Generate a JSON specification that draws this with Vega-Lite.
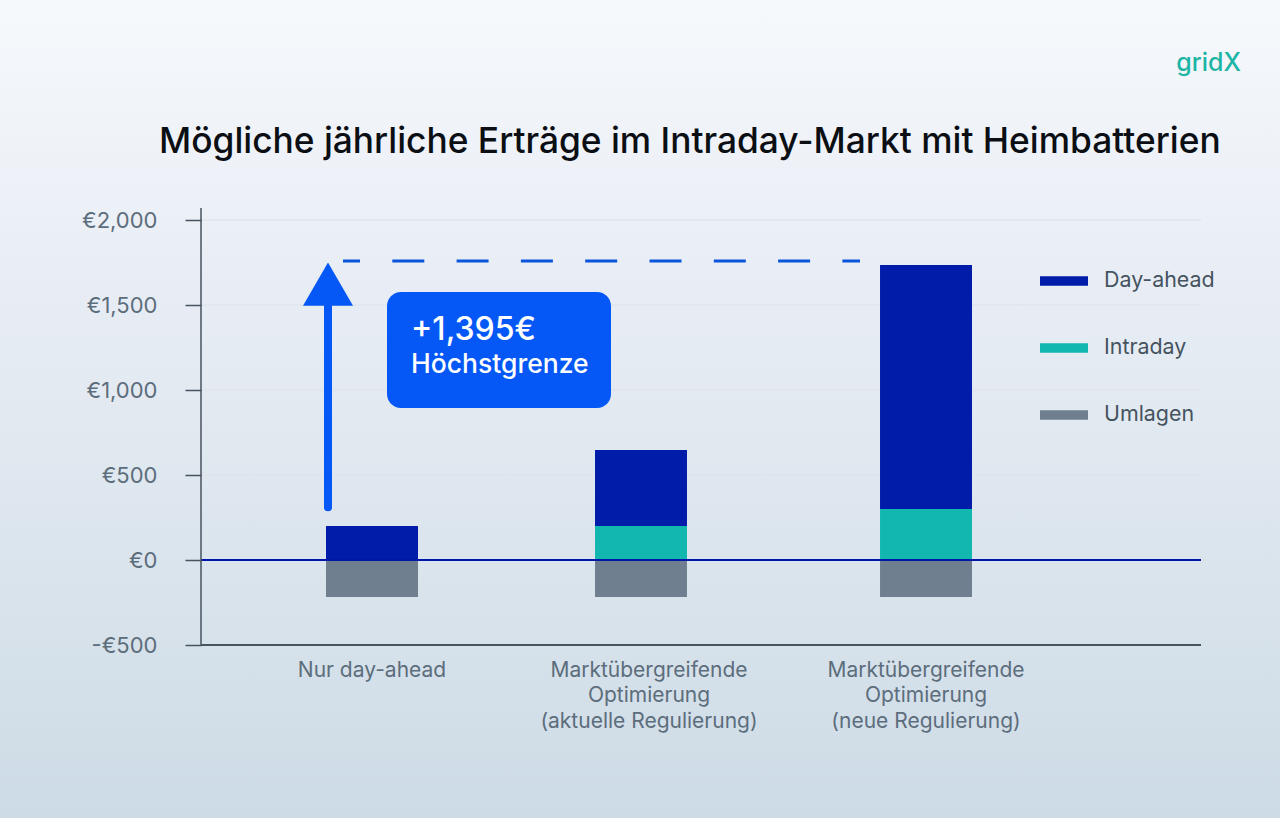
{
  "$schema": "https://vega.github.io/schema/vega-lite/v6.json",
  "width": 1000,
  "height": 425,
  "autosize": {"type": "none"},
  "padding": {"left": 201, "top": 220, "right": 79, "bottom": 173},
  "background": "#e4eaf2",
  "title": {
    "text": "Mögliche jährliche Erträge im Intraday-Markt mit Heimbatterien",
    "anchor": "start",
    "dx": 159,
    "offset": -160,
    "font": "Inter",
    "fontSize": 35.3,
    "fontWeight": 500,
    "color": "#0b0f14"
  },
  "config": {"view": {"stroke": null}, "font": "Inter"},
  "resolve": {"scale": {"x": "independent"}},
  "layer": [
    {
      "data": {"values": [{"x0": -201, "x1": 1079, "y0": 3294, "y1": -1518}]},
      "mark": {
        "type": "rect",
        "fill": {
          "gradient": "linear",
          "x1": 0, "y1": 0, "x2": 0, "y2": 1,
          "stops": [
            {"offset": 0, "color": "#f6f9fc"},
            {"offset": 0.35, "color": "#e8edf5"},
            {"offset": 0.7, "color": "#dae4ec"},
            {"offset": 1, "color": "#cddbe6"}
          ]
        }
      },
      "encoding": {
        "x": {"field": "x0", "type": "quantitative", "scale": {"domain": [0, 1000]}, "axis": null},
        "x2": {"field": "x1"},
        "y": {
          "field": "y0",
          "type": "quantitative",
          "scale": {"domain": [-500, 2000], "nice": false},
          "axis": {
            "title": null,
            "values": [-500, 0, 500, 1000, 1500, 2000],
            "domain": false,
            "grid": false,
            "tickSize": 16,
            "tickWidth": 1.5,
            "tickColor": "#47535f",
            "labelPadding": 28,
            "labelFontSize": 22,
            "labelColor": "#5c6d7c",
            "labelExpr": "(datum.value < 0 ? '-' : '') + '€' + format(abs(datum.value), ',')",
            "zindex": 1
          }
        },
        "y2": {"field": "y1"}
      }
    },
    {
      "data": {"values": [{"v": 2000}, {"v": 1500}, {"v": 1000}, {"v": 500}]},
      "mark": {"type": "rule", "color": "#e0e5ec", "strokeWidth": 1.5},
      "encoding": {"y": {"field": "v", "type": "quantitative"}}
    },
    {
      "data": {
        "values": [
          {"scenario": "Nur day-ahead", "type": "Day-ahead", "value": 200},
          {"scenario": "Nur day-ahead", "type": "Umlagen", "value": -218},
          {"scenario": "Marktübergreifende Optimierung (aktuelle Regulierung)", "type": "Day-ahead", "value": 447},
          {"scenario": "Marktübergreifende Optimierung (aktuelle Regulierung)", "type": "Intraday", "value": 200},
          {"scenario": "Marktübergreifende Optimierung (aktuelle Regulierung)", "type": "Umlagen", "value": -218},
          {"scenario": "Marktübergreifende Optimierung (neue Regulierung)", "type": "Day-ahead", "value": 1435},
          {"scenario": "Marktübergreifende Optimierung (neue Regulierung)", "type": "Intraday", "value": 300},
          {"scenario": "Marktübergreifende Optimierung (neue Regulierung)", "type": "Umlagen", "value": -218}
        ]
      },
      "mark": {"type": "bar", "xOffset": {"expr": "indexof(datum.scenario, 'aktuelle') >= 0 ? -8 : 0"}},
      "encoding": {
        "x": {
          "field": "scenario",
          "type": "nominal",
          "sort": null,
          "scale": {"type": "band", "range": [125, 771], "paddingInner": 0.668, "paddingOuter": 0},
          "axis": {
            "title": null,
            "domain": false,
            "ticks": false,
            "labelAngle": 0,
            "labelPadding": 14,
            "labelFontSize": 21,
            "labelColor": "#5c6d7c",
            "labelLimit": 400,
            "labelLineHeight": 25.5,
            "labelExpr": "split(replace(replace(datum.label, ' O', '|O'), ' (', '|('), '|')",
            "zindex": 1
          }
        },
        "y": {"field": "value", "type": "quantitative", "stack": "zero"},
        "color": {
          "field": "type",
          "type": "nominal",
          "scale": {"domain": ["Day-ahead", "Intraday", "Umlagen"], "range": ["#001ca8", "#12b8b0", "#6f7f8f"]},
          "legend": {
            "title": null,
            "orient": "none",
            "legendX": 839,
            "legendY": 37,
            "symbolType": "M-1,-0.2H1V0.2H-1Z",
            "symbolSize": 2304,
            "symbolStrokeWidth": 0,
            "symbolOpacity": 1,
            "labelOffset": 16,
            "labelFontSize": 21.4,
            "labelColor": "#45535f",
            "rowPadding": 32
          }
        }
      }
    },
    {
      "data": {"values": [{"v": 0}]},
      "mark": {"type": "rule", "color": "#0016a8", "strokeWidth": 2},
      "encoding": {"y": {"field": "v", "type": "quantitative"}}
    },
    {
      "data": {"values": [{"v": -500}]},
      "mark": {"type": "rule", "color": "#47535f", "strokeWidth": 2},
      "encoding": {"y": {"field": "v", "type": "quantitative"}}
    },
    {
      "data": {"values": [{"x": 0, "y0": -500, "y1": 2070}]},
      "mark": {"type": "rule", "color": "#47535f", "strokeWidth": 1.5},
      "encoding": {
        "x": {"field": "x", "type": "quantitative", "scale": {"domain": [0, 1000]}, "axis": null},
        "y": {"field": "y0", "type": "quantitative"},
        "y2": {"field": "y1"}
      }
    },
    {
      "data": {"values": [{"x": 127, "y0": 310, "y1": 1500}]},
      "mark": {"type": "rule", "color": "#0558f5", "strokeWidth": 8, "strokeCap": "round"},
      "encoding": {
        "x": {"field": "x", "type": "quantitative", "scale": {"domain": [0, 1000]}, "axis": null},
        "y": {"field": "y0", "type": "quantitative"},
        "y2": {"field": "y1"}
      }
    },
    {
      "data": {"values": [{"x": 127, "y": 1623}]},
      "mark": {"type": "point", "shape": "triangle-up", "size": 2500, "filled": true, "color": "#0558f5", "opacity": 1},
      "encoding": {
        "x": {"field": "x", "type": "quantitative", "scale": {"domain": [0, 1000]}, "axis": null},
        "y": {"field": "y", "type": "quantitative"}
      }
    },
    {
      "data": {"values": [{"x0": 142, "x1": 659, "y": 1759}]},
      "mark": {"type": "rule", "color": "#0b55dd", "strokeWidth": 3, "strokeDash": [32, 32.3], "strokeDashOffset": 15},
      "encoding": {
        "x": {"field": "x0", "type": "quantitative", "scale": {"domain": [0, 1000]}, "axis": null},
        "x2": {"field": "x1"},
        "y": {"field": "y", "type": "quantitative"}
      }
    },
    {
      "data": {"values": [{"x0": 186, "x1": 410, "y0": 1576, "y1": 894}]},
      "mark": {"type": "rect", "color": "#0558f5", "cornerRadius": 14},
      "encoding": {
        "x": {"field": "x0", "type": "quantitative", "scale": {"domain": [0, 1000]}, "axis": null},
        "x2": {"field": "x1"},
        "y": {"field": "y0", "type": "quantitative"},
        "y2": {"field": "y1"}
      }
    },
    {
      "data": {"values": [{"x": 210, "y": 1353, "label": "+1,395€"}]},
      "mark": {"type": "text", "align": "left", "baseline": "middle", "color": "#ffffff", "fontSize": 32, "fontWeight": 500},
      "encoding": {
        "x": {"field": "x", "type": "quantitative", "scale": {"domain": [0, 1000]}, "axis": null},
        "y": {"field": "y", "type": "quantitative"},
        "text": {"field": "label"}
      }
    },
    {
      "data": {"values": [{"x": 210, "y": 1147, "label": "Höchstgrenze"}]},
      "mark": {"type": "text", "align": "left", "baseline": "middle", "color": "#ffffff", "fontSize": 26.5, "fontWeight": 500},
      "encoding": {
        "x": {"field": "x", "type": "quantitative", "scale": {"domain": [0, 1000]}, "axis": null},
        "y": {"field": "y", "type": "quantitative"},
        "text": {"field": "label"}
      }
    },
    {
      "data": {"values": [{"x": 1040, "y": 2924, "label": "gridX"}]},
      "mark": {"type": "text", "align": "right", "baseline": "middle", "color": "#1fb5a6", "fontSize": 25, "fontWeight": 500},
      "encoding": {
        "x": {"field": "x", "type": "quantitative", "scale": {"domain": [0, 1000]}, "axis": null},
        "y": {"field": "y", "type": "quantitative"},
        "text": {"field": "label"}
      }
    }
  ]
}
